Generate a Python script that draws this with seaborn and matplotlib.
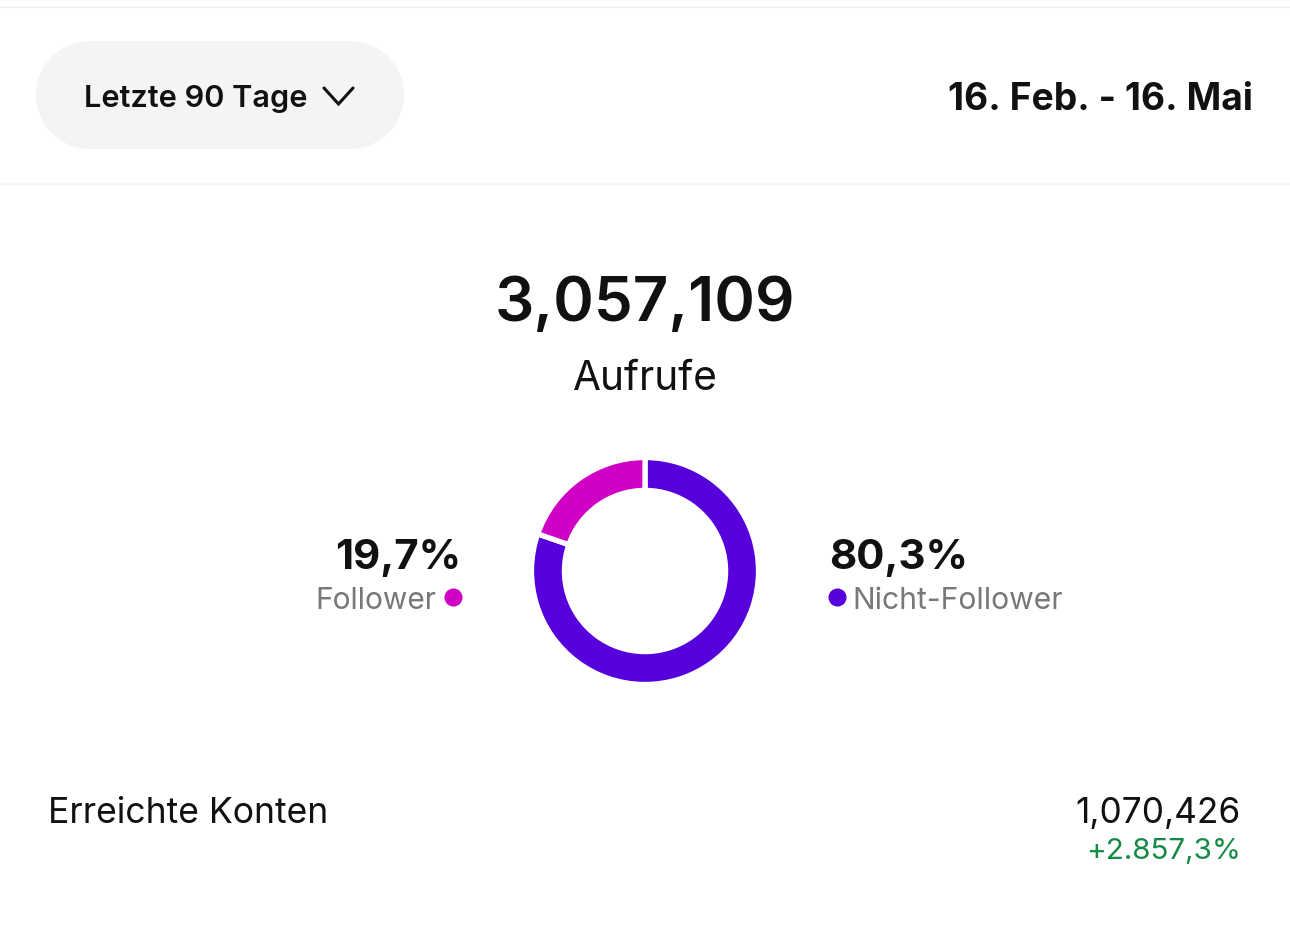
import matplotlib
matplotlib.use("Agg")
import matplotlib.pyplot as plt
import seaborn as sns

# Values
segments = ["Nicht-Follower", "Follower"]
shares = [80.3, 19.7]
share_labels = ["80,3%", "19,7%"]
colors = ["#5600DC", "#D000C4"]
total_views = "3,057,109"
reached = "1,070,426"
reached_change = "+2.857,3%"

sns.set_theme(style="white")
plt.rcParams["font.family"] = ["Inter", "DejaVu Sans"]

W, H = 1290, 942
fig = plt.figure(figsize=(W / 100, H / 100), dpi=100, facecolor="white")

# full-figure axes in pixel coords for the text and header
bg = fig.add_axes([0, 0, 1, 1])
bg.set_xlim(0, W)
bg.set_ylim(H, 0)
bg.axis("off")

bg.axhline(6.5, color="#f0f0f0", lw=1)
bg.axhline(184, color="#f7f7f7", lw=2)

# dropdown pill: thick line with round caps, 108 px high
bg.plot([90, 350], [95, 95], color="#F3F4F6", lw=108 * 0.72, solid_capstyle="round")
bg.text(84, 96, "Letzte 90 Tage", fontsize=22.1, fontweight="semibold", color="#111111", va="center_baseline", ha="left")
bg.plot([324, 338.5, 353], [88, 104, 88], color="#111111", lw=2.2, solid_capstyle="round", solid_joinstyle="miter")
bg.text(1253, 96, "16. Feb. - 16. Mai", fontsize=26.8, fontweight="bold", color="#111111", va="center_baseline", ha="right")

bg.text(645, 298, total_views, fontsize=44.5, fontweight="semibold", color="#111111", va="center_baseline", ha="center")
bg.text(645, 375, "Aufrufe", fontsize=29.2, color="#111111", va="center_baseline", ha="center")

bg.text(461, 554, share_labels[1], fontsize=30.2, fontweight="bold", color="#111111", va="center_baseline", ha="right")
bg.text(436, 598, segments[1], fontsize=21.5, color="#77777C", va="center_baseline", ha="right")
bg.scatter([453], [597], s=169, color=colors[1], linewidths=0)

bg.text(829, 554, share_labels[0], fontsize=30.2, fontweight="bold", color="#111111", va="center_baseline", ha="left")
bg.text(852, 598, segments[0], fontsize=21.7, color="#77777C", va="center_baseline", ha="left")
bg.scatter([837], [597], s=169, color=colors[0], linewidths=0)

bg.text(48, 810, "Erreichte Konten", fontsize=25.6, color="#111111", va="center_baseline", ha="left")
bg.text(1241, 810, reached, fontsize=25.4, color="#111111", va="center_baseline", ha="right")
bg.text(1241, 849, reached_change, fontsize=21.3, color="#148A45", va="center_baseline", ha="right")

# donut, centred at (645, 571); white edge eats 2.5 px, so draw it a bit larger than 111 px
size = 227
ax = fig.add_axes([(645 - size / 2) / W, 1 - (571 + size / 2) / H, size / W, size / H])
ax.pie(shares, colors=colors, startangle=90, counterclock=False, radius=1.0,
       wedgeprops=dict(width=0.29, edgecolor="white", linewidth=3.8))
ax.set_xlim(-1, 1)
ax.set_ylim(-1, 1)

fig.savefig("out.png", dpi=100)
